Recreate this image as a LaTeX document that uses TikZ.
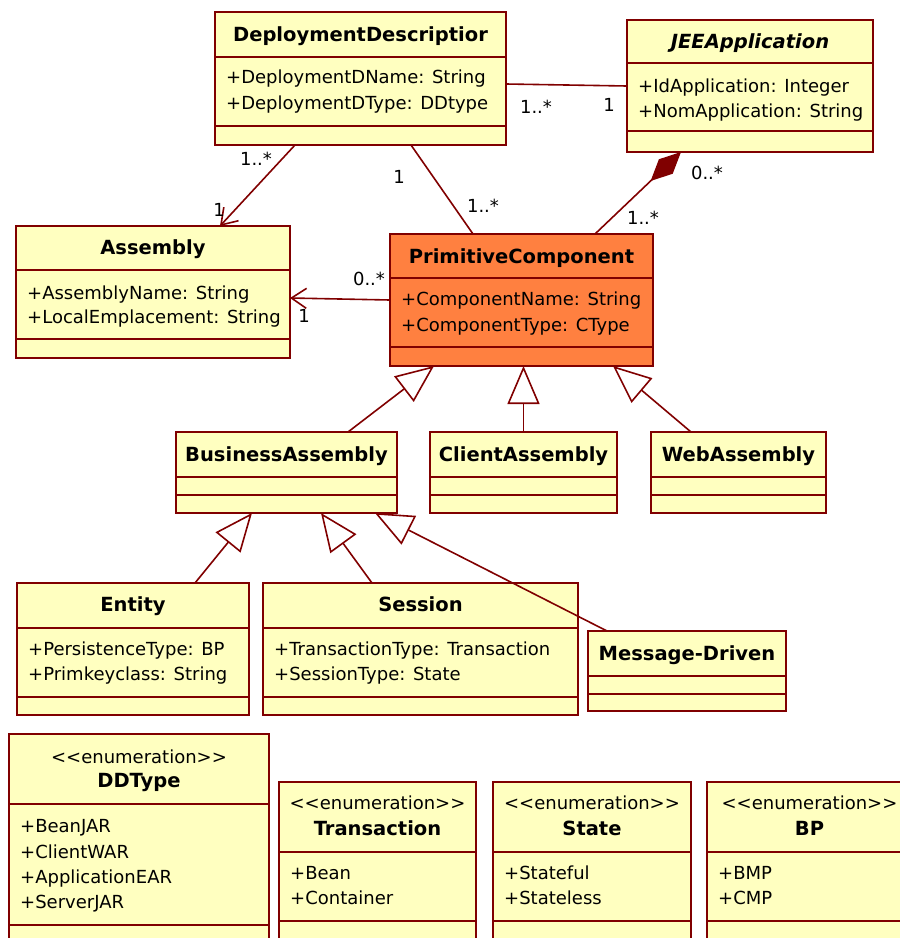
\documentclass[tikz,border=0pt]{standalone}
\usepackage{fontspec}
\setmainfont{DejaVu Sans}
\usetikzlibrary{arrows.meta}
\definecolor{umlred}{HTML}{800000}
\definecolor{umlyel}{HTML}{FFFFC0}
\definecolor{umlorg}{HTML}{FF8040}
\newcommand\umlcls[6][]{\node[cls,#1,minimum width={#5-#3},minimum height={#6-#4}] (#2) at (#3,#4) {};}
\newcommand\umlsep[2]{\draw[clsln] (#1.west |- 0,#2) -- (#1.east |- 0,#2);}
\begin{document}
\begin{tikzpicture}[x=1pt,y=-1pt,
  font=\fontsize{18}{22}\selectfont,
  cls/.style={draw=umlred, fill=umlyel, line width=1.6pt, inner sep=0pt, outer sep=0pt, anchor=north west},
  clsln/.style={draw=umlred, line width=1.6pt},
  ttl/.style={font=\fontsize{19.5}{23}\selectfont\bfseries, inner sep=0pt, text height=15pt, text depth=2pt},
  attr/.style={anchor=west, inner sep=0pt, text height=15pt, text depth=2pt},
  mult/.style={inner sep=0pt, text height=15pt, text depth=2pt},
  assoc/.style={draw=umlred, line width=1.6pt},
  nav/.style={assoc, -{Straight Barb[length=15pt, width=20pt]}},
  gen/.style={assoc, -{Triangle[open, length=38pt, width=32pt]}},
  comp/.style={assoc, {Diamond[length=42pt, width=20pt, fill=umlred]}-}
]
\useasboundingbox (0,0) rectangle (900,938);
\clip (0,0) rectangle (900,938);

% ---------- classes ----------
\umlcls{dd}{215}{12}{506}{145}
\umlsep{dd}{57}\umlsep{dd}{126}
\node[ttl] (dd-t) at (dd.north |- 0,35) {DeploymentDescriptior};
\node[attr] (dd-a1) at (226,77) {+DeploymentDName: String};
\node[attr] (dd-a2) at (226,103) {+DeploymentDType: DDtype};

\umlcls{jee}{627}{20}{873}{152}
\umlsep{jee}{63}\umlsep{jee}{131}
\node[ttl, font=\fontsize{19.5}{23}\selectfont\bfseries\itshape] (jee-t) at (jee.north |- 0,42) {JEEApplication};
\node[attr] (jee-a1) at (638,86) {+IdApplication: Integer};
\node[attr] (jee-a2) at (638,111) {+NomApplication: String};

\umlcls{asm}{16}{226}{290}{358}
\umlsep{asm}{270}\umlsep{asm}{339}
\node[ttl] (asm-t) at (asm.north |- 0,248) {Assembly};
\node[attr] (asm-a1) at (27,293) {+AssemblyName: String};
\node[attr] (asm-a2) at (27,317) {+LocalEmplacement: String};

\umlcls[fill=umlorg]{pc}{390}{234}{653}{366}
\umlsep{pc}{278}\umlsep{pc}{347}
\node[ttl] (pc-t) at (pc.north |- 0,257) {PrimitiveComponent};
\node[attr] (pc-a1) at (401,299) {+ComponentName: String};
\node[attr] (pc-a2) at (401,325) {+ComponentType: CType};

\umlcls{ba}{176}{432}{397}{513}
\umlsep{ba}{477}\umlsep{ba}{495}
\node[ttl] (ba-t) at (ba.north |- 0,455) {BusinessAssembly};

\umlcls{ca}{430}{432}{617}{513}
\umlsep{ca}{477}\umlsep{ca}{495}
\node[ttl] (ca-t) at (ca.north |- 0,455) {ClientAssembly};

\umlcls{wa}{651}{432}{826}{513}
\umlsep{wa}{477}\umlsep{wa}{495}
\node[ttl] (wa-t) at (wa.north |- 0,455) {WebAssembly};

\umlcls{ent}{17}{583}{249}{715}
\umlsep{ent}{628}\umlsep{ent}{697}
\node[ttl] (ent-t) at (ent.north |- 0,605) {Entity};
\node[attr] (ent-a1) at (28,649) {+PersistenceType: BP};
\node[attr] (ent-a2) at (28,674) {+Primkeyclass: String};

\umlcls{ses}{263}{583}{578}{715}
\umlsep{ses}{628}\umlsep{ses}{697}
\node[ttl] (ses-t) at (ses.north |- 0,605) {Session};
\node[attr] (ses-a1) at (274,649) {+TransactionType: Transaction};
\node[attr] (ses-a2) at (274,674) {+SessionType: State};

\umlcls{md}{588}{631}{786}{711}
\umlsep{md}{676}\umlsep{md}{694}
\node[ttl] (md-t) at (md.north |- 0,654) {Message-Driven};

% ---------- enumerations ----------
\umlcls{ddt}{9}{734}{269}{960}
\umlsep{ddt}{804}\umlsep{ddt}{925}
\node[mult] (ddt-s) at (ddt.north |- 0,757) {<{}<enumeration>{}>};
\node[ttl] (ddt-t) at (ddt.north |- 0,781) {DDType};
\node[attr] (ddt-a1) at (20,826) {+BeanJAR};
\node[attr] (ddt-a2) at (20,852) {+ClientWAR};
\node[attr] (ddt-a3) at (20,877) {+ApplicationEAR};
\node[attr] (ddt-a4) at (20,902) {+ServerJAR};

\umlcls{tr}{279}{782}{476}{960}
\umlsep{tr}{852}\umlsep{tr}{921}
\node[mult] (tr-s) at (tr.north |- 0,803) {<{}<enumeration>{}>};
\node[ttl] (tr-t) at (tr.north |- 0,829) {Transaction};
\node[attr] (tr-a1) at (290,873) {+Bean};
\node[attr] (tr-a2) at (290,898) {+Container};

\umlcls{st}{493}{782}{691}{960}
\umlsep{st}{852}\umlsep{st}{921}
\node[mult] (st-s) at (st.north |- 0,803) {<{}<enumeration>{}>};
\node[ttl] (st-t) at (st.north |- 0,829) {State};
\node[attr] (st-a1) at (504,873) {+Stateful};
\node[attr] (st-a2) at (504,898) {+Stateless};

\umlcls{bp}{707}{782}{912}{960}
\umlsep{bp}{852}\umlsep{bp}{921}
\node[mult] (bp-s) at (bp.north |- 0,803) {<{}<enumeration>{}>};
\node[ttl] (bp-t) at (bp.north |- 0,829) {BP};
\node[attr] (bp-a1) at (718,873) {+BMP};
\node[attr] (bp-a2) at (718,898) {+CMP};

% ---------- connectors ----------
\draw[assoc] (dd.east |- 0,84) -- (jee.west |- 0,86);
\draw[nav] (dd.south -| 295,0) -- (asm.north -| 220,0);
\draw[assoc] (dd.south -| 411,0) -- (pc.north -| 473,0);
\draw[comp] (jee.south -| 681,0) -- (pc.north -| 595,0);
\draw[nav] (pc.west |- 0,300) -- (asm.east |- 0,298);

\draw[gen] (ba.north -| 348,0) -- (pc.south -| 434,0);
\draw[gen] (ca.north) -- (pc.south -| ca.north);
\draw[gen] (wa.north -| 691,0) -- (pc.south -| 613,0);
\draw[gen] (ent.north -| 195,0) -- (ba.south -| 252,0);
\draw[gen] (ses.north -| 372,0) -- (ba.south -| 321,0);
\draw[gen] (md.north -| 607,0) -- (ba.south -| 375,0);

% ---------- multiplicities ----------
\node[mult] (m1) at (536,107) {1..*};
\node[mult] (m2) at (609,105) {1};
\node[mult] (m3) at (256,159) {1..*};
\node[mult] (m4) at (219,210) {1};
\node[mult] (m5) at (399,177) {1};
\node[mult] (m6) at (483,206) {1..*};
\node[mult] (m7) at (707,173) {0..*};
\node[mult] (m8) at (643,218) {1..*};
\node[mult] (m9) at (369,279) {0..*};
\node[mult] (m10) at (304,316) {1};
\end{tikzpicture}
\end{document}
